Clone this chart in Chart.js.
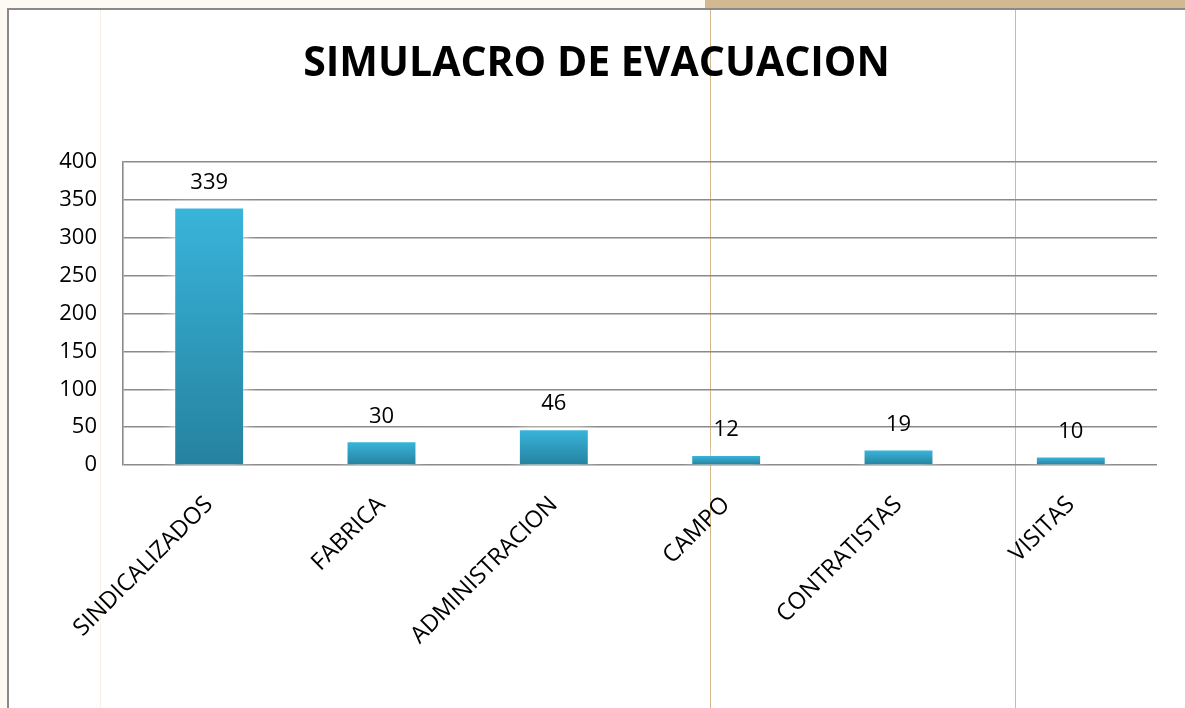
<!DOCTYPE html>
<html>
<head>
<meta charset="utf-8">
<title>SIMULACRO DE EVACUACION</title>
<script src="https://cdn.jsdelivr.net/npm/chart.js@4/dist/chart.umd.min.js"></script>
<style>
    html, body { margin: 0; padding: 0; width: 1185px; height: 708px; overflow: hidden; background: #fdf9f3; }
    #frame { position: absolute; left: 7px; top: 8px; width: 1180px; height: 702px; background: #fff;
             border-left: 2px solid #8a8a8a; border-top: 2px solid #8a8a8a; }
    #strip { position: absolute; left: 705px; top: 0; width: 480px; height: 8px; background: #d3b98f; }
    .vline { position: absolute; top: 10px; height: 698px; width: 1px; }
    #chart { position: absolute; left: 0; top: 0; }
</style>
</head>
<body>
<div id="frame"></div>
<div id="strip"></div>
<div class="vline" style="left:100px;background:#f8efe4"></div>
<div class="vline" style="left:710px;background:#d2b88c"></div>
<div class="vline" style="left:1015px;background:#cbb9a0"></div>
<canvas id="chart" width="1185" height="708"></canvas>

<script>
// Chart data
const categories = ["SINDICALIZADOS", "FABRICA", "ADMINISTRACION", "CAMPO", "CONTRATISTAS", "VISITAS"];
const evacuados = [339, 30, 46, 12, 19, 10];
const yMin = 0;
const yMax = 400;
const yStep = 50;
const chartTitle = "SIMULACRO DE EVACUACION";

const GRID = "#8a8a8a";

// Per-bar vertical gradient, light on top, darker at the base
function barGradient(ctx) {
    const chart = ctx.chart;
    if (!chart.chartArea || ctx.type !== "data") return "#31a3c7";
    const y = chart.scales.y;
    const top = y.getPixelForValue(ctx.raw);
    const bottom = y.getPixelForValue(0);
    const g = chart.ctx.createLinearGradient(0, top, 0, bottom);
    g.addColorStop(0, "#39b4da");
    g.addColorStop(1, "#25829f");
    return g;
}

// White glow round the bars plus the value labels above them
const barExtras = {
    id: "barExtras",
    beforeDatasetsDraw(chart) {
        const ctx = chart.ctx;
        ctx.save();
        ctx.shadowColor = "rgba(255,255,255,1)";
        ctx.shadowBlur = 14;
    },
    afterDatasetsDraw(chart) {
        const ctx = chart.ctx;
        ctx.restore();
        const meta = chart.getDatasetMeta(0);
        ctx.save();
        ctx.font = "22px 'Open Sans'";
        ctx.fillStyle = "#000";
        ctx.textAlign = "center";
        ctx.textBaseline = "middle";
        meta.data.forEach((bar, i) => {
            ctx.fillText(String(evacuados[i]), bar.x, bar.y - 26);
        });
        ctx.restore();
    }
};

new Chart(document.getElementById("chart"), {
    type: "bar",
    data: {
        labels: categories,
        datasets: [{
            data: evacuados,
            backgroundColor: barGradient,
            borderWidth: 0,
            categoryPercentage: 1,
            barPercentage: 0.394
        }]
    },
    options: {
        responsive: false,
        devicePixelRatio: 1,
        animation: false,
        layout: { padding: { left: 36, right: 28, top: 0, bottom: 0 } },
        plugins: {
            legend: { display: false },
            tooltip: { enabled: false },
            title: {
                display: true,
                text: chartTitle,
                color: "#000",
                font: { family: "'Open Sans'", weight: "bold", size: 41, lineHeight: 1.2 },
                padding: { top: 40, bottom: 73 }
            }
        },
        scales: {
            x: {
                grid: { display: false, drawTicks: false },
                border: { display: false },
                ticks: {
                    color: "#000",
                    font: { family: "'Open Sans'", size: 23.5 },
                    minRotation: 45,
                    maxRotation: 45,
                    autoSkip: false,
                    padding: 26
                },
                afterFit(scale) { scale.height = 243; }
            },
            y: {
                min: yMin,
                max: yMax,
                grid: { color: GRID, lineWidth: 1.6, drawTicks: false },
                border: { color: GRID, width: 1.6 },
                ticks: {
                    stepSize: yStep,
                    color: "#000",
                    font: { family: "'Open Sans'", size: 22 },
                    padding: 26
                },
                afterFit(scale) { scale.width = 87; }
            }
        }
    },
    plugins: [barExtras]
});
</script>
</body>
</html>
